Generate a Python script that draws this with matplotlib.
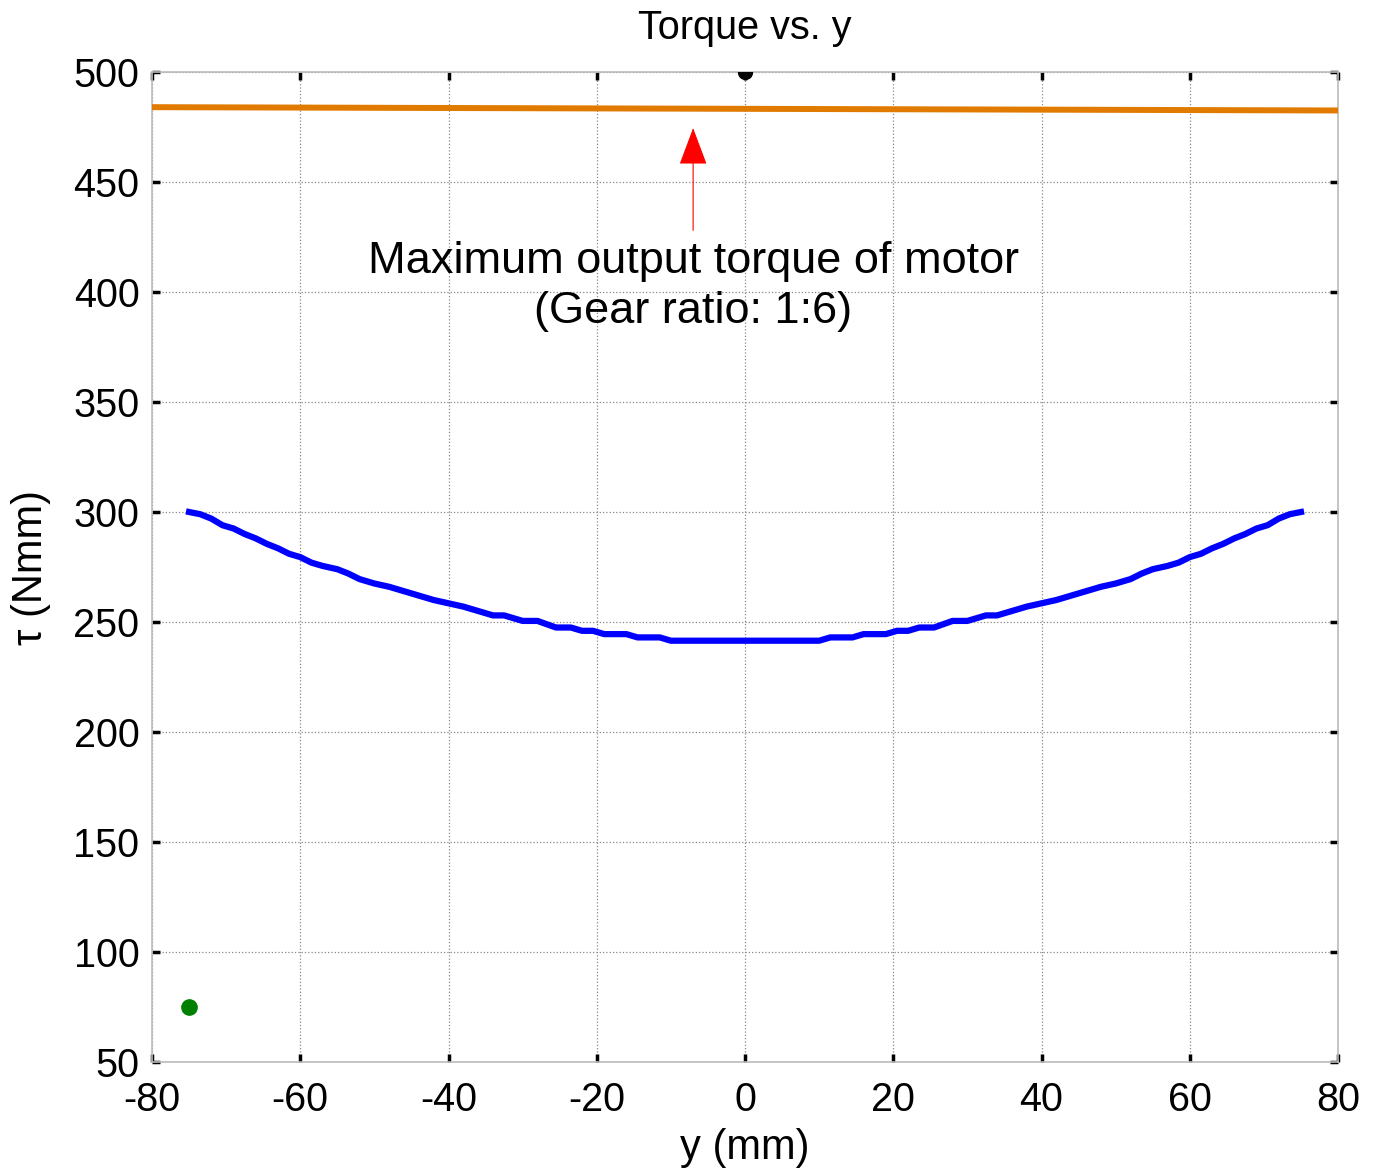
import matplotlib
matplotlib.use("Agg")
import matplotlib.pyplot as plt

plt.rcParams["font.family"] = ["Liberation Sans", "DejaVu Sans"]
plt.rcParams["axes.unicode_minus"] = False

# torque curve (blue)
y_pos = [-75, -73.5, -72, -70.5, -69, -67.5, -66, -64.5, -63, -61.5, -60, -58.5,
         -57, -55, -53.5, -52, -50, -48, -46, -44, -42, -40, -38, -36, -34,
         -32.5, -30, -28, -25.5, -23.5, -22, -20.5, -19, -16, -14.5, -11.5, -10,
         10, 11.5, 14.5, 16, 19, 20.5, 22, 23.5, 25.5, 28, 30, 32.5, 34, 36, 38,
         40, 42, 44, 46, 48, 50, 52, 53.5, 55, 57, 58.5, 60, 61.5, 63, 64.5, 66,
         67.5, 69, 70.5, 72, 73.5, 75]
torque = [300, 299, 297, 294, 292.5, 290, 288, 285.5, 283.5, 281, 279.5, 277,
          275.5, 274, 272, 269.5, 267.5, 266, 264, 262, 260, 258.5, 257, 255, 253,
          253, 250.5, 250.5, 247.5, 247.5, 246, 246, 244.5, 244.5, 243, 243, 241.5,
          241.5, 243, 243, 244.5, 244.5, 246, 246, 247.5, 247.5, 250.5, 250.5, 253,
          253, 255, 257, 258.5, 260, 262, 264, 266, 267.5, 269.5, 272, 274, 275.5,
          277, 279.5, 281, 283.5, 285.5, 288, 290, 292.5, 294, 297, 299, 300]

# max motor torque line (orange)
motor_y = [-80, 80]
motor_torque = [484, 482.5]

top_point = (0, 500)
start_point = (-75, 75)

fig = plt.figure(figsize=(13.78, 11.76), dpi=100)
ax = fig.add_axes([0.1103, 0.0969, 0.8607, 0.8419])

ax.plot(motor_y, motor_torque, color="#e07b00", lw=4.3, zorder=3)
ax.plot(y_pos, torque, color="#0000ff", lw=4.5, zorder=3)
ax.plot(*start_point, "o", color="#008000", ms=11, zorder=4)
ax.plot(*top_point, "o", color="black", ms=10, zorder=4)

ax.annotate("", xy=(-7, 474.5), xytext=(-7, 428),
            arrowprops=dict(arrowstyle="-|>,head_length=2.4,head_width=0.9",
                            color="red", lw=0.8, shrinkA=0, shrinkB=0))
ax.text(-7, 423, "Maximum output torque of motor\n(Gear ratio: 1:6)",
        ha="center", va="top", fontsize=32.5, linespacing=1.27)

ax.set_xlim(-80, 80)
ax.set_ylim(50, 500)
ax.set_xticks(range(-80, 81, 20))
ax.set_yticks(range(50, 501, 50))
ax.grid(True, color="#888888", ls=":", lw=0.9)
for s in ax.spines.values():
    s.set_color("#bbbbbb")
    s.set_linewidth(1.2)
ax.tick_params(direction="in", length=6, width=2.5, color="black",
               top=True, right=True, labelsize=28.5)
ax.tick_params(axis="x", pad=14)
ax.tick_params(axis="y", pad=9)

ax.set_title("Torque vs. y", fontsize=28.5, pad=24)
ax.set_xlabel("y (mm)", fontsize=30, labelpad=6)
ax.set_ylabel("τ (Nmm)", fontsize=30, labelpad=16)

fig.savefig("out.png", dpi=100)
